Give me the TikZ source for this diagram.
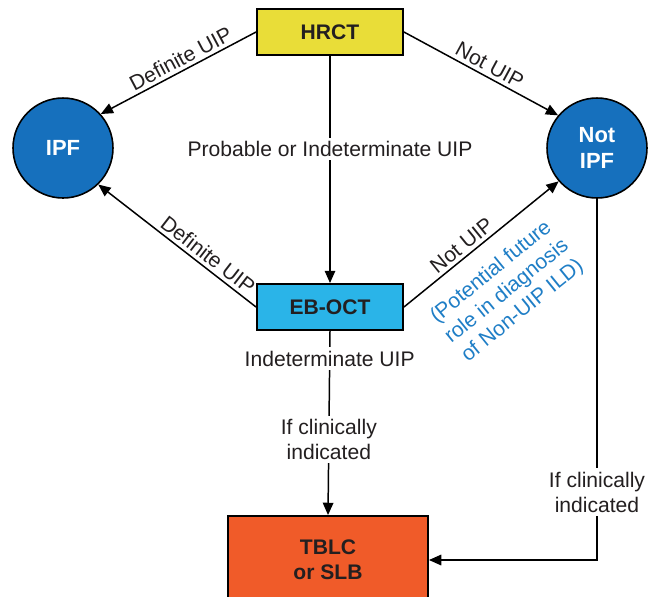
\documentclass[tikz,border=0pt]{standalone}
\usepackage{fontspec}
\setmainfont{Liberation Sans}
\usepackage{tikz}
\usetikzlibrary{shapes,calc,positioning,arrows.meta}
\definecolor{hrctgelb}{HTML}{E9DD38}
\definecolor{octblau}{HTML}{2AB4E8}
\definecolor{ipfblau}{HTML}{1670BD}
\definecolor{hinweisblau}{HTML}{1F7EC6}
\definecolor{tblcrot}{HTML}{F05B29}
\definecolor{schrift}{HTML}{231F20}

\begin{document}
\begin{tikzpicture}[x=0.02cm,y=-0.02cm,
    font=\fontsize{12}{14.2}\selectfont, text=schrift,
    kasten/.style={draw=black,line width=1.1pt,minimum width=2.92cm,minimum height=0.92cm,font=\bfseries\fontsize{12}{14.2}\selectfont},
    kreis/.style={circle,draw=black,line width=0.9pt,fill=ipfblau,minimum size=2cm,text=white,align=center,font=\bfseries\fontsize{12.5}{14.5}\selectfont},
    pfeil/.style={draw=black,line width=0.85pt,-{Triangle[length=7pt,width=6pt]}},
    etikett/.style={fill=white,inner sep=2pt,align=center}]
    \useasboundingbox (0,0) rectangle (648,596);

    \node [kasten,fill=hrctgelb] (hrct) at (330,32) {HRCT};
    \node [kasten,fill=octblau] (eboct) at (330,307) {EB-OCT};
    \node [kasten,fill=tblcrot,minimum width=4cm,minimum height=1.76cm,align=center] (tblc) at (328,560) {TBLC\\or SLB};
    \node [kreis] (ipf) at (63,148) {IPF};
    \node [kreis] (notipf) at (597,148) {Not\\IPF};

    \draw [pfeil] (hrct.west) -- node [sloped,above,pos=0.45,inner sep=2pt] (hrctdef) {Definite UIP} (ipf.42);
    \draw [pfeil] (hrct.east) -- node [sloped,above,pos=0.52,inner sep=2pt] (hrctnot) {Not UIP} (notipf.140);
    \draw [pfeil] (hrct.south) -- node [etikett,pos=0.41] (hrctprob) {Probable or Indeterminate UIP} (eboct.north);
    \draw [pfeil] (eboct.west) -- node [sloped,above,pos=0.35,inner sep=2pt] (octdef) {Definite UIP} (ipf.-46);
    \draw [pfeil] (eboct.east) -- node [sloped,above,pos=0.42,inner sep=2pt] (octnot) {Not UIP}
        node [sloped,below=10pt,pos=0.45,align=center,text=hinweisblau,inner sep=0pt] (hinweis)
        {(Potential future\\role in diagnosis\\of Non-UIP ILD)} (notipf.221);
    \draw [pfeil] (eboct.south) -- node [etikett,pos=0.15] (octindet) {Indeterminate UIP}
        node [etikett,pos=0.59] (octklin) {If clinically\\indicated} (tblc.north);
    \draw [pfeil] (notipf.south) |- node [etikett,pos=0.406] (notklin) {If clinically\\indicated} (tblc.east);
\end{tikzpicture}
\end{document}
